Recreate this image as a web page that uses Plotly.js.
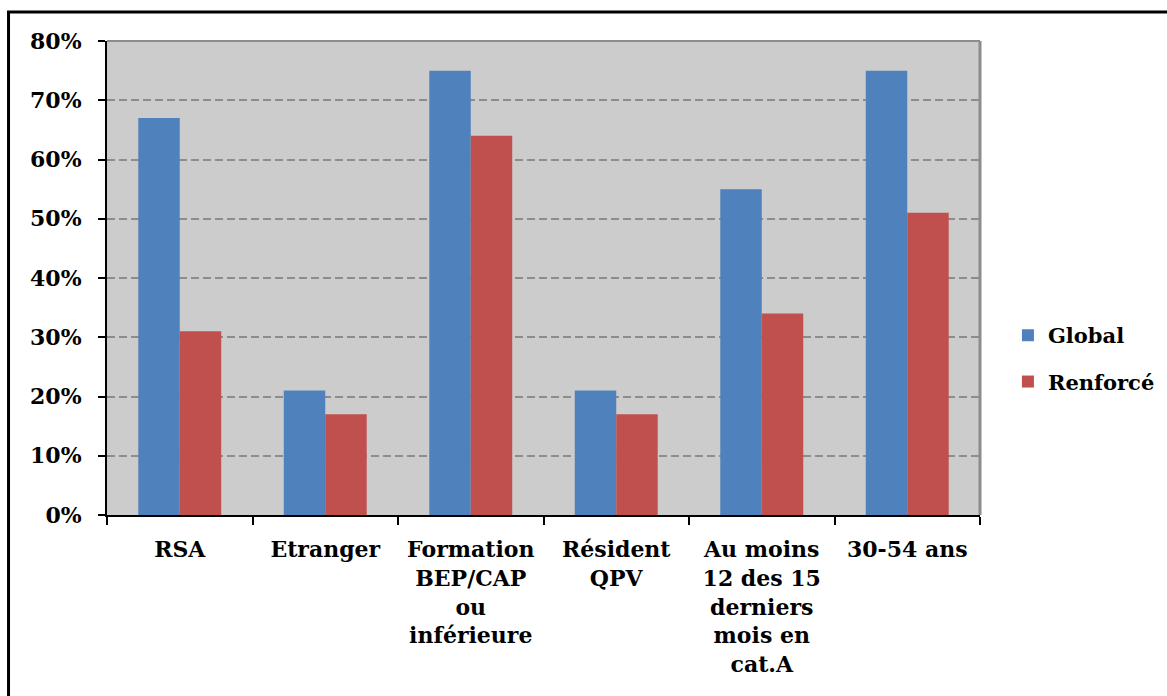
<!DOCTYPE html>
<html>
<head>
<meta charset="utf-8">
<script src="https://cdn.plot.ly/plotly-3.0.1.min.js"></script>
<style>
  html, body { margin: 0; padding: 0; background: #ffffff; }
  #chart { width: 1167px; height: 696px; }
</style>
</head>
<body>
<div id="chart"></div>
<script>
// Share of job seekers by profile, global vs reinforced follow-up
const categories = [
  "RSA",
  "Etranger",
  "Formation<br>BEP/CAP<br>ou<br>inférieure",
  "Résident<br>QPV",
  "Au moins<br>12 des 15<br>derniers<br>mois en<br>cat.A",
  "30-54 ans"
];
const globalValues = [0.67, 0.21, 0.75, 0.21, 0.55, 0.75];
const renforceValues = [0.31, 0.17, 0.64, 0.17, 0.34, 0.51];
const yTickValues = [0, 0.1, 0.2, 0.3, 0.4, 0.5, 0.6, 0.7, 0.8];

const FONT = "DejaVu Serif, Liberation Serif, serif";

const traces = [
  {
    type: "bar", name: "Global", x: categories, y: globalValues,
    marker: { color: "#4F81BD" }, legendgroup: "g", hoverinfo: "none"
  },
  {
    type: "bar", name: "Renforcé", x: categories, y: renforceValues,
    marker: { color: "#C0504D" }, legendgroup: "r", hoverinfo: "none"
  }
];

const layout = {
  width: 1167, height: 696,
  margin: { l: 107, r: 187, t: 41, b: 181, autoexpand: false },
  paper_bgcolor: "#ffffff",
  plot_bgcolor: "#CCCCCC",
  font: { family: FONT, color: "#000000", size: 21, weight: "bold" },
  barmode: "group",
  bargap: 0.43,
  bargroupgap: 0,
  showlegend: true,
  legend: {
    x: 1.032, xanchor: "left", y: 0.33, yanchor: "middle",
    font: { family: FONT, size: 21, color: "#000", weight: "bold" },
    traceorder: "grouped", tracegroupgap: 16,
    itemwidth: 30,
    bgcolor: "rgba(0,0,0,0)"
  },
  xaxis: {
    type: "category",
    showline: true, linecolor: "#000", linewidth: 2,
    ticks: "outside", tickson: "boundaries", ticklen: 8, tickwidth: 2, tickcolor: "#000",
    tickfont: { family: FONT, size: 22, color: "#000", weight: "bold" },
    ticklabelstandoff: 14,
    showgrid: false, zeroline: false, tickangle: 0
  },
  yaxis: {
    range: [0, 0.8],
    tickvals: yTickValues,
    tickformat: ".0%",
    showline: true, linecolor: "#000", linewidth: 2,
    ticks: "outside", ticklen: 7, tickwidth: 2, tickcolor: "#000",
    tickfont: { family: FONT, size: 22, color: "#000", weight: "bold" },
    ticklabelstandoff: 12,
    showgrid: true, gridcolor: "#8C8C8C", gridwidth: 2, griddash: "8px,4px",
    zeroline: false
  },
  shapes: [
    // gray plot-area edges on top and right
    { type: "line", xref: "paper", yref: "paper", x0: 0, x1: 1, y0: 1, y1: 1,
      line: { color: "#8C8C8C", width: 2 } },
    { type: "line", xref: "paper", yref: "paper", x0: 1, x1: 1, y0: 0, y1: 1,
      line: { color: "#8C8C8C", width: 3 } },
    // outer frame
    { type: "rect", xref: "paper", yref: "paper",
      x0: -0.1128, x1: 1.5, y0: 1.0612, y1: -0.6,
      line: { color: "#000", width: 3 }, fillcolor: "rgba(0,0,0,0)" }
  ]
};

Plotly.newPlot("chart", traces, layout, { staticPlot: true, displayModeBar: false });
</script>
</body>
</html>
